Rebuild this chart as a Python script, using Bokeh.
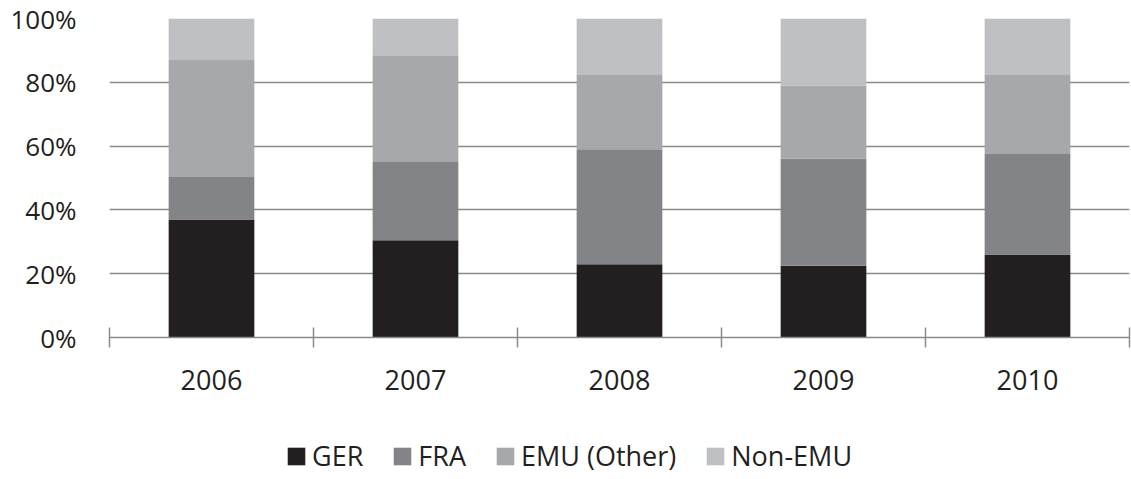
from bokeh.plotting import figure
from bokeh.layouts import column
from bokeh.models import Range1d, FixedTicker, Legend, LegendItem, ColumnDataSource
from bokeh.embed import file_html
from bokeh.resources import INLINE

years = ["2006", "2007", "2008", "2009", "2010"]
ger = [37.0, 30.5, 23.0, 22.5, 26.0]
fra = [13.3, 24.5, 36.0, 33.5, 31.5]
emu = [36.7, 33.5, 23.5, 23.0, 25.0]
non_emu = [13.0, 11.5, 17.5, 21.0, 17.5]
series_names = ["GER", "FRA", "EMU (Other)", "Non-EMU"]
colors = ["#231F20", "#838487", "#A7A8AB", "#BFC0C3"]
y_ticks = [0, 20, 40, 60, 80, 100]

FONT = "Open Sans"
GRID = "#8a8a8a"
TXT = "#231F20"

x_pos = [i + 0.5 for i in range(len(years))]
src = ColumnDataSource(dict(x=x_pos, GER=ger, FRA=fra, EMU=emu, NON=non_emu))

p = figure(width=1131, height=410, output_backend="svg", toolbar_location=None,
           x_range=Range1d(0, len(years)), y_range=Range1d(0, 100),
           min_border_left=109, min_border_right=2, min_border_top=18, min_border_bottom=73)
p.outline_line_color = None
p.xgrid.grid_line_color = None
p.ygrid.grid_line_color = GRID
p.ygrid.grid_line_width = 1.5
p.ygrid.ticker = FixedTicker(ticks=y_ticks)

rs = p.vbar_stack(["GER", "FRA", "EMU", "NON"], x="x", width=0.42, source=src,
                  color=colors, line_color=None)

# y axis
p.yaxis.ticker = FixedTicker(ticks=y_ticks)
p.yaxis.major_label_overrides = {t: f"{t}%" for t in y_ticks}
p.yaxis.axis_line_color = None
p.yaxis.major_tick_line_color = None
p.yaxis.minor_tick_line_color = None
p.yaxis.major_label_text_font = FONT
p.yaxis.major_label_text_font_size = "26px"
p.yaxis.major_label_text_color = TXT
p.yaxis.major_label_standoff = 27

# x axis
p.xaxis.ticker = FixedTicker(ticks=x_pos, minor_ticks=list(range(len(years) + 1)))
p.xaxis.major_label_overrides = {x: y for x, y in zip(x_pos, years)}
p.xaxis.axis_line_color = GRID
p.xaxis.axis_line_width = 1.5
p.xaxis.major_tick_line_color = None
p.xaxis.major_tick_out = 10
p.xaxis.major_tick_in = 0
p.xaxis.minor_tick_line_color = GRID
p.xaxis.minor_tick_line_width = 1.5
p.xaxis.minor_tick_in = 10
p.xaxis.minor_tick_out = 10
p.xaxis.major_label_text_font = FONT
p.xaxis.major_label_text_font_size = "27px"
p.xaxis.major_label_text_color = TXT
p.xaxis.major_label_standoff = 22

# legend strip below the chart (swatch renderers sit outside the visible range)
lg = figure(width=1131, height=69, output_backend="svg", toolbar_location=None,
            x_range=Range1d(0, 1), y_range=Range1d(0, 1),
            x_axis_location=None, y_axis_location=None,
            min_border_left=0, min_border_right=0, min_border_top=0, min_border_bottom=0)
lg.outline_line_color = None
lg.xgrid.grid_line_color = None
lg.ygrid.grid_line_color = None
swatches = [lg.vbar(x=[-5], top=[-5], width=0.1, color=c, line_color=None) for c in colors]

legend = Legend(items=[LegendItem(label=n, renderers=[r]) for n, r in zip(series_names, swatches)],
                orientation="horizontal", location=(176, 5))
legend.label_text_font = FONT
legend.label_text_font_size = "27px"
legend.label_text_color = TXT
legend.glyph_width = 22
legend.glyph_height = 22
legend.label_standoff = 5
legend.spacing = 28
legend.padding = 0
legend.margin = 0
legend.border_line_color = None
legend.background_fill_alpha = 0
lg.add_layout(legend)

layout = column(p, lg, spacing=0)
open("out.html", "w").write(file_html(layout, INLINE))
